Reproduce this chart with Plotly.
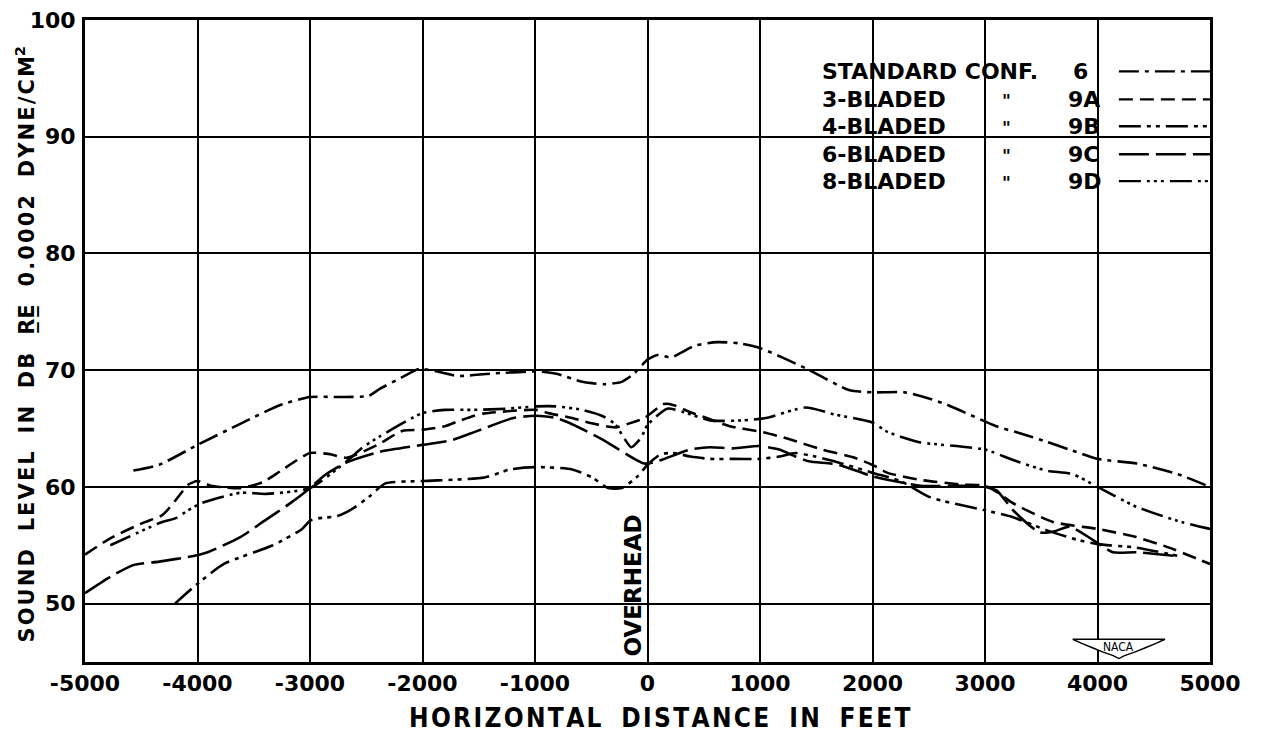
import plotly.graph_objects as go

FONT = "DejaVu Sans"

# ---------------- data ----------------
x_ticks = [-5000, -4000, -3000, -2000, -1000, 0, 1000, 2000, 3000, 4000, 5000]
x_tick_labels = ["-5000", "-4000", "-3000", "-2000", "-1000", "0", "1000", "2000", "3000", "4000", "5000"]
y_ticks = [50, 60, 70, 80, 90, 100]
y_tick_labels = ["50", "60", "70", "80", "90", "100"]

std6_x = [-4570, -4340, -4000, -3620, -3270, -3000, -2750, -2480, -2380, -2180, -2030, -1830, -1690, -1400,
          -990, -810, -580, -380, -230, -120, 0, 90, 210, 420, 620, 820, 1000, 1420, 1790, 2000, 2290, 2620,
          3100, 3310, 3540, 3750, 4000, 4350, 4710, 5000]
std6_y = [61.4, 61.9, 63.6, 65.4, 67.0, 67.7, 67.7, 67.8, 68.4, 69.4, 70.1, 69.8, 69.5, 69.7,
          69.9, 69.7, 69.0, 68.8, 69.0, 69.7, 70.9, 71.3, 71.1, 72.1, 72.4, 72.3, 71.9, 70.1, 68.3, 68.1, 68.1, 67.2,
          65.2, 64.6, 63.9, 63.2, 62.4, 62.0, 61.1, 60.0]

b3_x = [-5000, -4775, -4490, -4310, -4200, -4080, -4000, -3880, -3620, -3420, -3256, -3000, -2820, -2674,
        -2400, -2180, -2000, -1800, -1690, -1540, -1450, -990, -870, -670, -520, -290, -174, -29, 146, 234,
        380, 556, 731, 1023, 1257, 1550, 1842, 2018, 2135, 2427, 2800, 3000, 3100, 3250, 3603, 4000, 4345,
        4636, 5000]
b3_y = [54.2, 55.6, 56.9, 57.6, 58.8, 60.2, 60.5, 60.1, 59.9, 60.4, 61.4, 62.9, 62.8, 62.5,
        63.6, 64.8, 64.9, 65.2, 65.6, 66.1, 66.3, 66.6, 66.3, 65.9, 65.5, 65.1, 65.4, 65.9, 67.1, 67.0,
        66.4, 65.8, 65.2, 64.7, 64.1, 63.2, 62.5, 61.8, 61.2, 60.6, 60.2, 60.1, 59.6, 58.6, 57.0, 56.4, 55.7,
        54.8, 53.4]

b4_x = [-4200, -4000, -3765, -3330, -3070, -3000, -2930, -2755, -2610, -2470, -2330, -2000, -1450, -1220,
        -990, -670, -490, -350, -230, -88, 0, 117, 234, 380, 556, 760, 994, 1170, 1316, 1491, 1696, 2003,
        2250, 2515, 3000, 3250, 3544, 3809, 4000, 4345, 4709]
b4_y = [50.0, 51.7, 53.4, 55.0, 56.4, 57.1, 57.3, 57.5, 58.2, 59.2, 60.3, 60.5, 60.8, 61.5,
        61.7, 61.5, 60.8, 59.9, 59.9, 60.9, 61.9, 62.8, 62.9, 62.6, 62.4, 62.4, 62.4, 62.6, 62.9, 62.6, 62.1, 61.2,
        60.5, 59.1, 58.0, 57.4, 56.3, 55.5, 55.1, 54.8, 54.1]

b6_x = [-5000, -4775, -4570, -4340, -4025, -3910, -3620, -3390, -3190, -3000, -2870, -2674, -2384, -2000,
        -1744, -1512, -1192, -988, -814, -698, -407, -29, 88, 380, 556, 760, 994, 1170, 1316, 1433, 1696,
        2003, 2427, 2800, 3000, 3103, 3250, 3485, 3620, 3750, 3985, 4136, 4345, 4673]
b6_y = [50.9, 52.3, 53.3, 53.6, 54.1, 54.4, 55.7, 57.2, 58.5, 59.9, 61.0, 62.1, 63.0, 63.6,
        64.0, 64.8, 65.9, 66.1, 65.9, 65.5, 64.1, 62.0, 62.2, 63.2, 63.4, 63.3, 63.5, 63.2, 62.6, 62.2, 61.9,
        60.9, 60.1, 60.1, 60.0, 59.7, 58.0, 56.1, 56.2, 56.6, 55.3, 54.4, 54.4, 54.1]

b8_x = [-4775, -4313, -4198, -4082, -3967, -3620, -3390, -3000, -2674, -2529, -2384, -2006, -1802, -1541,
        -1250, -988, -814, -581, -407, -291, -203, -145, -58, 0, 175, 322, 556, 848, 1053, 1404, 1667, 2003,
        2135, 2427, 2515, 3000, 3250, 3544, 3779, 4000, 4345, 4709, 5000]
b8_y = [55.0, 57.0, 57.3, 58.0, 58.6, 59.5, 59.4, 59.9, 62.2, 63.4, 64.3, 66.3, 66.6, 66.6,
        66.7, 66.9, 66.9, 66.6, 66.1, 65.4, 64.1, 63.4, 64.2, 65.3, 66.7, 66.4, 65.7, 65.7, 65.9, 66.8, 66.2, 65.5,
        64.7, 63.8, 63.7, 63.2, 62.3, 61.4, 61.1, 60.0, 58.3, 57.1, 56.4]

legend_names = ["STANDARD CONF.", "3-BLADED", "4-BLADED", "6-BLADED", "8-BLADED"]
legend_codes = ["6", "9A", "9B", "9C", "9D"]

# ---------------- styles ----------------
dashes = [
    "20px,6px,4px,6px",
    "14px,7px",
    "22px,6px,4px,5px,4px,6px",
    "30px,7px",
    "22px,6px,3px,4px,3px,4px,3px,6px",
]
series = [(std6_x, std6_y), (b3_x, b3_y), (b4_x, b4_y), (b6_x, b6_y), (b8_x, b8_y)]

HAIR = "\u200a"
WORD_GAP = "\u2002 "


def spaced(s):
    """Lettering look: hair space between letters, wide gap between words."""
    return WORD_GAP.join(HAIR.join(w) for w in s.split(" "))


fig = go.Figure()
for (xs, ys), d, name in zip(series, dashes, legend_codes):
    fig.add_trace(go.Scatter(
        x=xs, y=ys, mode="lines", name=name,
        line=dict(color="black", width=2.6, dash=d, shape="spline", smoothing=0.6),
        showlegend=False, hoverinfo="skip"))

shapes = []
# white masks that interrupt the grid (legend block, OVERHEAD label)
shapes.append(dict(type="rect", xref="x", yref="y", x0=1470, x1=5000, y0=84.8, y1=97.4,
                   fillcolor="white", line=dict(width=0), layer="below"))
shapes.append(dict(type="rect", xref="x", yref="y", x0=-420, x1=-25, y0=45, y1=56.5,
                   fillcolor="white", line=dict(width=0), layer="below"))

annotations = []
row_y = [95.6, 93.2, 90.9, 88.5, 86.2]
LEG_FONT = dict(family=FONT, size=22, color="black", weight="bold")
for i, (nm, cd, d) in enumerate(zip(legend_names, legend_codes, dashes)):
    y = row_y[i]
    annotations.append(dict(x=1530, y=y, xref="x", yref="y", text=nm, showarrow=False,
                            xanchor="left", yanchor="middle", font=LEG_FONT))
    annotations.append(dict(x=3760 if i == 0 else 3720, y=y, xref="x", yref="y", text=cd, showarrow=False,
                            xanchor="left", yanchor="middle", font=LEG_FONT))
    if i > 0:
        annotations.append(dict(x=3190, y=y - 0.15, xref="x", yref="y", text='"', showarrow=False,
                                xanchor="center", yanchor="middle",
                                font=dict(family=FONT, size=17, color="black", weight="bold")))
    shapes.append(dict(type="line", xref="x", yref="y", x0=4190, x1=5000, y0=y, y1=y,
                       line=dict(color="black", width=2.4, dash=d)))

# OVERHEAD label
annotations.append(dict(x=-125, y=51.6, xref="x", yref="y", text="OVERHEAD", showarrow=False,
                        textangle=-90, xanchor="center", yanchor="middle",
                        font=dict(family=FONT, size=23, color="black", weight="bold")))

# NACA emblem
shapes.append(dict(type="path", xref="x", yref="y",
                   path="M 3780,46.95 L 4600,46.95 L 4520,46.6 L 4420,46.2 L 4330,45.85 L 4240,45.55 "
                        "L 4190,45.3 L 4140,45.55 L 4050,45.85 L 3960,46.2 L 3860,46.6 Z",
                   fillcolor="white", line=dict(color="black", width=1.4)))
annotations.append(dict(x=4190, y=46.3, xref="x", yref="y", text="NACA", showarrow=False,
                        font=dict(family="DejaVu Sans Condensed, DejaVu Sans", size=12, color="black")))

# axis titles as annotations
annotations.append(dict(x=-0.053, y=0.495, xref="paper", yref="paper",
                        text=spaced("SOUND LEVEL IN DB") + WORD_GAP + "R\u0332E\u0332" + WORD_GAP
                             + spaced("0.0002 DYNE/CM") + "<sup>2</sup>",
                        showarrow=False, textangle=-90, xanchor="center", yanchor="middle",
                        font=dict(family=FONT, size=21, color="black", weight="bold")))
annotations.append(dict(x=0.511, y=-0.087, xref="paper", yref="paper",
                        text=spaced("HORIZONTAL DISTANCE IN FEET"), showarrow=False,
                        xanchor="center", yanchor="middle",
                        font=dict(family="DejaVu Sans Condensed, Liberation Sans Narrow", size=26,
                                  color="black", weight="bold")))

TICK_FONT = dict(family=FONT, size=22, color="black", weight="bold")

# page body has an 8px margin: frame at x 85..1210, y 20..662 of the window
fig.update_layout(
    width=1253, height=725,
    margin=dict(l=77, r=51, t=12, b=71, autoexpand=False),
    paper_bgcolor="white", plot_bgcolor="white",
    shapes=shapes, annotations=annotations,
    showlegend=False,
)
fig.update_xaxes(range=[-5000, 5000], tickvals=x_ticks, ticktext=x_tick_labels,
                 showgrid=True, gridcolor="black", gridwidth=2.2, zeroline=False,
                 showline=True, linecolor="black", linewidth=3, mirror=True,
                 ticks="", ticklabelstandoff=0, ticklabeloverflow="allow",
                 tickfont=TICK_FONT)
fig.update_yaxes(range=[45, 100], tickvals=y_ticks, ticktext=y_tick_labels,
                 showgrid=True, gridcolor="black", gridwidth=2.2, zeroline=False,
                 showline=True, linecolor="black", linewidth=3, mirror=True,
                 ticks="", ticklabelstandoff=2, ticklabeloverflow="allow",
                 tickfont=TICK_FONT)

fig.write_html("out.html")
